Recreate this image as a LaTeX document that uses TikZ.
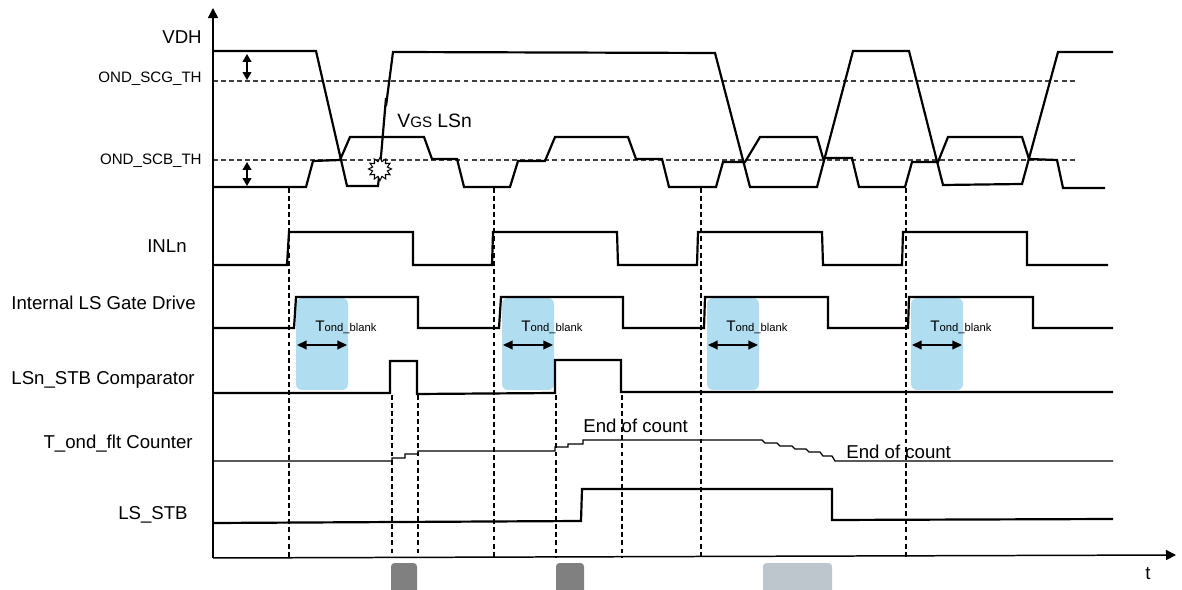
\documentclass[tikz,border=0pt]{standalone}
\usepackage{fontspec}
\setmainfont{Liberation Sans}
\usetikzlibrary{arrows.meta,shapes.geometric}

\begin{document}
\begin{tikzpicture}[x=0.02cm,y=-0.02cm,
    sig/.style={line width=1.25pt,line join=miter},
    thr/.style={line width=0.6pt,black!75,dash pattern=on 2.8pt off 1.8pt},
    mark line/.style={line width=0.6pt,dash pattern=on 2.8pt off 1.8pt},
    lbl/.style={anchor=base east,inner sep=0pt,font=\fontsize{10.6}{12}\selectfont},
    txt/.style={anchor=base west,inner sep=0pt,font=\fontsize{10.6}{12}\selectfont},
    thlbl/.style={anchor=base east,inner sep=0pt,font=\fontsize{8.6}{10}\selectfont}]
  \useasboundingbox (0,0) rectangle (1182,590);

  \foreach \x in {296,502,707,911} {
    \fill[fill={rgb,255:red,176;green,221;blue,240},rounded corners=3.4pt]
      (\x,298) rectangle ++(52,92);
    \draw[{Triangle[length=5.5pt,width=5pt]}-{Triangle[length=5.5pt,width=5pt]},line width=0.8pt]
      (\x+1,345) -- (\x+51,345);
    \node[anchor=base west,inner sep=0pt,font=\fontsize{8.7}{10}\selectfont] (tb\x) at (\x+19,332)
      {T{\fontsize{6.4}{8}\selectfont ond\_blank}};
  }

  \fill[black!50,rounded corners=2pt] (391,563) rectangle (417,594);
  \fill[black!50,rounded corners=2pt] (556,563) rectangle (584,594);
  \fill[fill={rgb,255:red,189;green,198;blue,204},rounded corners=2pt] (763,563) rectangle (832,594);

  \draw[thr] (213,81) -- (1077,81);
  \draw[thr] (213,160) -- (1077,160);
  \foreach \x in {289,494,701,906}
    \draw[mark line] (\x,188) -- (\x,558);
  \foreach \x in {392,418,556,622}
    \draw[mark line] (\x,395) -- (\x,558);

  \draw[line width=0.85pt,-{Triangle[length=5.7pt,width=5.7pt]}] (213,558) -- (213,8);
  \draw[line width=0.85pt,-{Triangle[length=5.7pt,width=5.7pt]}] (213,558) -- (1176,555);

  \draw[{Triangle[length=4.5pt,width=5pt]}-{Triangle[length=4.5pt,width=5pt]},line width=0.8pt]
    (247,54) -- (247,80);
  \draw[{Triangle[length=4.5pt,width=5pt]}-{Triangle[length=4.5pt,width=5pt]},line width=0.8pt]
    (247,162) -- (247,186);

  \draw[sig] (213,51) -- (316,51) -- (347,186) -- (378,186) -- (380,168) -- (386,98)
    -- (386,106) -- (393,52) -- (715,53) -- (750,187) -- (817,187) -- (853,51)
    -- (909,51) -- (943,185) -- (1022,184) -- (1058,52) -- (1113,52);
  \draw[sig] (213,187) -- (306,187) -- (313,161) -- (340,160) -- (350,137) -- (424,137)
    -- (432,159) -- (457,159) -- (464,187) -- (510,187) -- (518,161) -- (545,161)
    -- (555,137) -- (628,137) -- (636,159) -- (662,159) -- (669,187) -- (716,187)
    -- (723,162) -- (745,162) -- (760,137) -- (817,137) -- (823,158) -- (852,158)
    -- (859,187) -- (905,187) -- (912,162) -- (938,162) -- (948,137) -- (1022,137)
    -- (1029,159) -- (1057,160) -- (1063,188) -- (1105,188);
  \node[star,star points=12,star point ratio=1.5,draw,fill=white,line width=0.6pt,
    minimum size=0.46cm,inner sep=0pt] (spark) at (380,169) {};

  \draw[sig] (213,265) -- (287,265) -- (289,232) -- (413,232) -- (413,265) -- (492,265)
    -- (493,232) -- (617,232) -- (618,265) -- (697,265) -- (698,232) -- (822,232)
    -- (823,265) -- (902,265) -- (903,232) -- (1027,232) -- (1027,265) -- (1108,265);
  \draw[sig] (213,328) -- (294,328) -- (296,297) -- (418,297) -- (418,328) -- (499,328)
    -- (501,297) -- (623,297) -- (623,328) -- (704,328) -- (705,297) -- (828,297)
    -- (828,328) -- (908,328) -- (909,297) -- (1033,297) -- (1033,328) -- (1113,328);
  \draw[sig] (213,393) -- (390,393) -- (390,361) -- (417,361) -- (417,394) -- (555,393)
    -- (555,360) -- (621,360) -- (621,392) -- (1113,392);
  \draw[line width=0.7pt] (213,461) -- (392,461) -- (392,458) -- (405,458) -- (405,454)
    -- (418,454) -- (418,451) -- (555,451) -- (555,447) -- (568,447) -- (568,444)
    -- (583,444) -- (583,440) -- (762,440) -- (765,443) -- (777,443) -- (780,446)
    -- (792,446) -- (795,449) -- (806,449) -- (809,452) -- (820,452) -- (823,456)
    -- (832,456) -- (835,461) -- (1113,461);
  \draw[sig] (213,523) -- (581,521) -- (582,489) -- (832,489) -- (832,520) -- (1113,519);

  \node[lbl] (vdh) at (202,44) {VDH};
  \node[thlbl] (scg) at (202,83) {OND\_SCG\_TH};
  \node[thlbl] (scb) at (202,165) {OND\_SCB\_TH};
  \node[lbl] (inl) at (187,253) {INLn};
  \node[lbl] (gate) at (196,310) {Internal LS Gate Drive};
  \node[lbl] (comp) at (195,385) {LSn\_STB Comparator};
  \node[lbl] (cnt) at (193,449) {T\_ond\_flt Counter};
  \node[lbl] (stb) at (188,520) {LS\_STB};
  \node[txt,font=\fontsize{11}{13}\selectfont] (vgs) at (397,128)
    {V{\fontsize{8.6}{10}\selectfont GS} LSn};
  \node[txt] (eoc1) at (583,433) {End of count};
  \node[txt] (eoc2) at (846,459) {End of count};
  \node[txt] (t) at (1145,579) {t};
\end{tikzpicture}
\end{document}
